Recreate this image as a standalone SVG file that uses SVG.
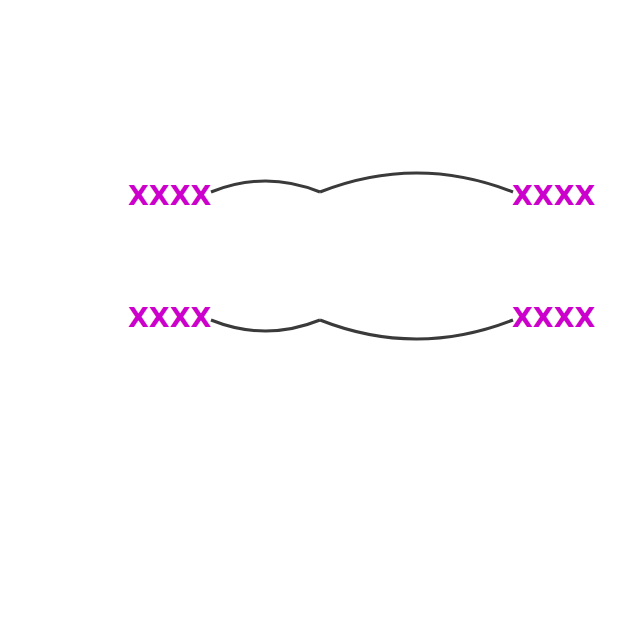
<svg xmlns="http://www.w3.org/2000/svg" width="640" height="640" viewBox="0 0 640 640">
<style>
.lbl{font-family:"DejaVu Sans",sans-serif;font-weight:bold;font-size:27px;fill:#cc00cc}
.edge{fill:none;stroke:#3a3a3a;stroke-width:3}
</style>
<rect width="640" height="640" fill="#ffffff"/>
<g id="connectors">
<path class="edge" d="M211,192 Q265.5,170 320,192"/>
<path class="edge" d="M320,192 Q416.5,154 513,192"/>
<path class="edge" d="M211,320 Q265.5,342 320,320"/>
<path class="edge" d="M320,320 Q416.5,358 513,320"/>
</g>
<g id="n1"><text class="lbl" x="128" y="205">XXXX</text></g>
<g id="n2"><text class="lbl" x="512" y="205">XXXX</text></g>
<g id="n3"><text class="lbl" x="128" y="327">XXXX</text></g>
<g id="n4"><text class="lbl" x="512" y="327">XXXX</text></g>
</svg>
